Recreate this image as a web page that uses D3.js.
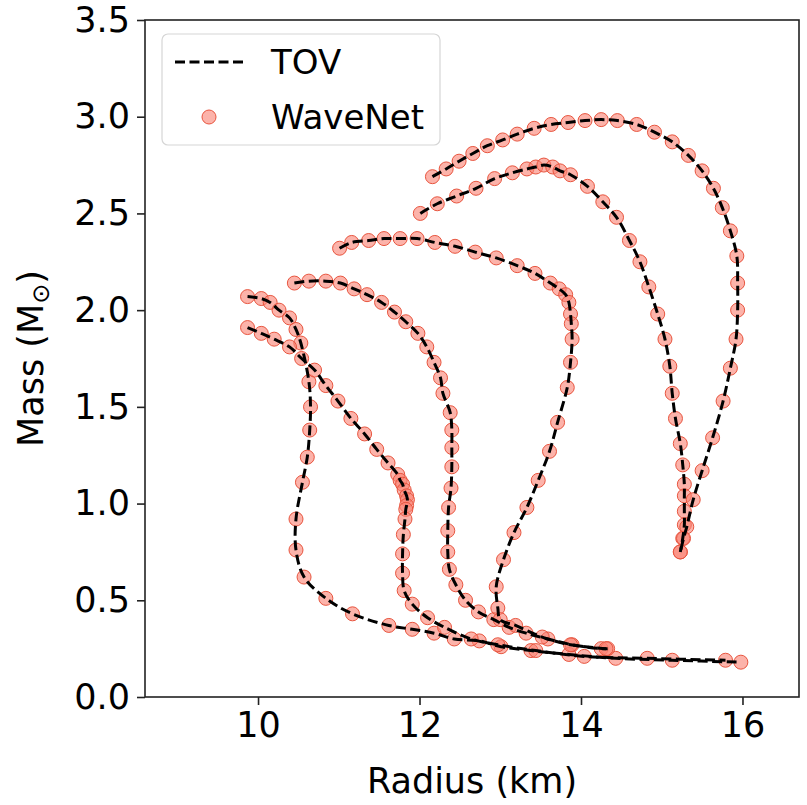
<!doctype html>
<html lang='en'>
<head>
    <meta charset='UTF-8'>
    <title>Mass-radius</title>
    <style>
        body {
            margin: 0;
            background: #fff;
        }

        text {
            font-family: 'DejaVu Sans', sans-serif;
            fill: #000;
        }

        .tick text {
            font-size: 35px;
        }
    </style>
</head>
<body>

<script src='https://d3js.org/d3.v7.min.js'></script>
<script>
  // six equations of state, [radius km, mass Msun]
  const eosA = [[9.87, 2.07], [10.04, 2.06], [10.15, 2.04], [10.26, 2.0], [10.39, 1.96], [10.47, 1.9], [10.53, 1.83],
    [10.63, 1.63], [10.65, 1.5], [10.64, 1.38], [10.61, 1.24], [10.55, 1.11], [10.47, 0.92], [10.47, 0.76],
    [10.57, 0.62], [10.84, 0.51], [11.17, 0.43], [11.62, 0.37], [11.91, 0.35], [12.18, 0.33], [12.43, 0.3],
    [12.74, 0.29], [13.01, 0.26], [13.38, 0.24], [13.85, 0.22], [14.43, 0.2], [15.13, 0.19], [15.98, 0.18]]

  const eosB = [[9.87, 1.91], [10.04, 1.88], [10.2, 1.85], [10.39, 1.81], [10.54, 1.75], [10.7, 1.69], [10.84, 1.61],
    [10.99, 1.53], [11.15, 1.44], [11.32, 1.36], [11.47, 1.28], [11.61, 1.21], [11.73, 1.15], [11.76, 1.12],
    [11.79, 1.1], [11.81, 1.07], [11.84, 1.04], [11.85, 1.02], [11.84, 0.99], [11.83, 0.97], [11.82, 0.92],
    [11.8, 0.84], [11.79, 0.74], [11.79, 0.64], [11.81, 0.55], [11.91, 0.48], [12.1, 0.41], [12.31, 0.36],
    [12.64, 0.3], [12.97, 0.27], [13.44, 0.24], [14.04, 0.21], [14.82, 0.2], [15.79, 0.19]]

  const eosF = [[10.45, 2.14], [10.63, 2.15], [10.84, 2.15], [11.02, 2.14], [11.19, 2.11], [11.35, 2.08], [11.53, 2.04],
    [11.69, 1.99], [11.83, 1.94], [11.98, 1.88], [12.09, 1.81], [12.18, 1.73], [12.26, 1.65], [12.29, 1.57],
    [12.38, 1.47], [12.4, 1.38], [12.4, 1.29], [12.4, 1.19], [12.39, 1.08], [12.36, 0.98], [12.35, 0.86],
    [12.35, 0.75], [12.37, 0.66], [12.45, 0.58], [12.57, 0.5], [12.73, 0.44], [12.92, 0.4], [13.11, 0.36],
    [13.32, 0.33], [13.59, 0.3], [13.89, 0.27], [14.25, 0.25], [14.33, 0.25]]

  const eosC = [[11.01, 2.32], [11.16, 2.35], [11.37, 2.36], [11.56, 2.37], [11.76, 2.37], [11.97, 2.37], [12.19, 2.35],
    [12.44, 2.33], [12.69, 2.3], [12.95, 2.27], [13.21, 2.23], [13.43, 2.19], [13.62, 2.14], [13.73, 2.11],
    [13.81, 2.08], [13.85, 2.04], [13.87, 1.98], [13.88, 1.93], [13.89, 1.85], [13.87, 1.73], [13.83, 1.6],
    [13.71, 1.42], [13.61, 1.27], [13.47, 1.12], [13.33, 0.98], [13.17, 0.85], [13.04, 0.71], [12.95, 0.57],
    [12.97, 0.46], [13.0, 0.4], [13.19, 0.37], [13.52, 0.31], [13.87, 0.27], [14.31, 0.25]]

  const eosD = [[12.01, 2.5], [12.22, 2.55], [12.46, 2.59], [12.7, 2.63], [12.93, 2.68], [13.15, 2.71], [13.33, 2.73],
    [13.44, 2.74], [13.54, 2.75], [13.65, 2.74], [13.74, 2.72], [13.87, 2.7], [14.08, 2.64], [14.27, 2.56],
    [14.44, 2.48], [14.6, 2.36], [14.73, 2.25], [14.84, 2.12], [14.95, 1.98], [15.04, 1.85], [15.1, 1.71],
    [15.13, 1.57], [15.17, 1.44], [15.23, 1.31], [15.26, 1.2], [15.28, 1.1], [15.28, 1.04], [15.28, 0.96],
    [15.28, 0.89], [15.26, 0.82], [15.23, 0.75]]

  const eosE = [[12.16, 2.69], [12.33, 2.73], [12.49, 2.77], [12.66, 2.81], [12.84, 2.85], [13.03, 2.88], [13.21, 2.91],
    [13.42, 2.94], [13.63, 2.96], [13.84, 2.97], [14.05, 2.98], [14.25, 2.985], [14.45, 2.98], [14.69, 2.96],
    [14.91, 2.92], [15.13, 2.87], [15.33, 2.8], [15.5, 2.72], [15.64, 2.63], [15.75, 2.53], [15.85, 2.41],
    [15.93, 2.28], [15.94, 2.14], [15.94, 2.0], [15.92, 1.85], [15.85, 1.7], [15.76, 1.53], [15.63, 1.34],
    [15.5, 1.17], [15.39, 1.02], [15.31, 0.88], [15.27, 0.82], [15.23, 0.75]]

  const curves = [eosA, eosB, eosF, eosC, eosD, eosE]

  const xTicks = [10, 12, 14, 16]
  const yTicks = [0, 0.5, 1, 1.5, 2, 2.5, 3, 3.5]

  const W = 807, H = 805
  const margin = {left: 145, right: 799, top: 20, bottom: 697}

  const svg = d3.select('body').append('svg')
    .attr('width', W)
    .attr('height', H)

  const x = d3.scaleLinear().domain([8.6, 16.7]).range([margin.left, margin.right])
  const y = d3.scaleLinear().domain([0, 3.5]).range([margin.bottom, margin.top])

  const line = d3.line()
    .x(d => x(d[0]))
    .y(d => y(d[1]))
    .curve(d3.curveCatmullRom)

  const plot = svg.append('g')

  //// WaveNet markers ////
  curves.forEach(c => {
    plot.append('g').selectAll('circle')
      .data(c)
      .enter()
      .append('circle')
      .attr('cx', d => x(d[0]))
      .attr('cy', d => y(d[1]))
      .attr('r', 7)
      .attr('fill', '#fa8072')
      .attr('fill-opacity', 0.6)
      .attr('stroke', '#e8553f')
      .attr('stroke-width', 1)
  })

  //// TOV lines ////
  curves.forEach(c => {
    plot.append('path')
      .datum(c)
      .attr('d', line)
      .attr('fill', 'none')
      .attr('stroke', '#000')
      .attr('stroke-width', 3)
      .attr('stroke-dasharray', '10,4.5')
  })

  //// Axes ////
  svg.append('g')
    .attr('transform', `translate(0,${margin.bottom})`)
    .call(d3.axisBottom(x)
      .tickValues(xTicks)
      .tickFormat(d3.format('d'))
      .tickSizeInner(8)
      .tickSizeOuter(0)
      .tickPadding(7))

  svg.append('g')
    .attr('transform', `translate(${margin.left},0)`)
    .call(d3.axisLeft(y)
      .tickValues(yTicks)
      .tickFormat(d3.format('.1f'))
      .tickSizeInner(8)
      .tickSizeOuter(0)
      .tickPadding(7))

  svg.selectAll('.domain').remove()
  svg.selectAll('.tick line').attr('stroke', '#222').attr('stroke-width', 1.6)

  svg.append('rect')
    .attr('x', margin.left)
    .attr('y', margin.top)
    .attr('width', margin.right - margin.left)
    .attr('height', margin.bottom - margin.top)
    .attr('fill', 'none')
    .attr('stroke', '#222')
    .attr('stroke-width', 1.6)

  // axis labels
  svg.append('text')
    .attr('x', (margin.left + margin.right) / 2)
    .attr('y', 793)
    .attr('text-anchor', 'middle')
    .style('font-size', '35px')
    .text('Radius (km)')

  const yl = svg.append('text')
    .attr('transform', `translate(43,${(margin.top + margin.bottom) / 2}) rotate(-90)`)
    .attr('text-anchor', 'middle')
    .style('font-size', '35px')
  yl.append('tspan').text('Mass (M')
  yl.append('tspan').attr('dy', 6).style('font-size', '24px').text('\u2299')
  yl.append('tspan').attr('dy', -6).text(')')

  //// Legend ////
  const lg = svg.append('g')
  lg.append('rect')
    .attr('x', 162)
    .attr('y', 34)
    .attr('width', 278)
    .attr('height', 111)
    .attr('rx', 6)
    .attr('fill', '#fff')
    .attr('fill-opacity', 0.8)
    .attr('stroke', '#d6d6d6')
    .attr('stroke-width', 1.2)

  lg.append('line')
    .attr('x1', 175).attr('x2', 245)
    .attr('y1', 62).attr('y2', 62)
    .attr('stroke', '#000')
    .attr('stroke-width', 3)
    .attr('stroke-dasharray', '10,4.5')

  lg.append('circle')
    .attr('cx', 209).attr('cy', 117)
    .attr('r', 7)
    .attr('fill', '#fa8072')
    .attr('fill-opacity', 0.6)
    .attr('stroke', '#e8553f')
    .attr('stroke-width', 1)

  lg.append('text').attr('x', 271).attr('y', 74).style('font-size', '34px').text('TOV')
  lg.append('text').attr('x', 271).attr('y', 129).style('font-size', '34px').text('WaveNet')
</script>
</body>
</html>
